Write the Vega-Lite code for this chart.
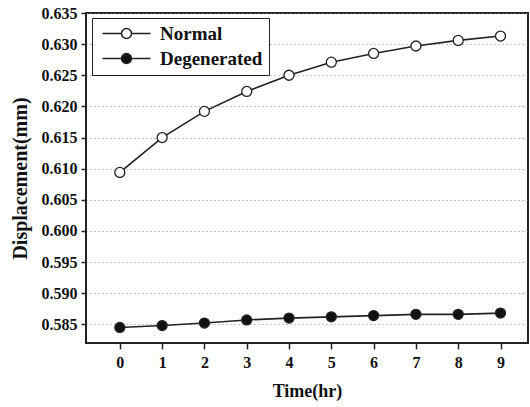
{
  "$schema": "https://vega.github.io/schema/vega-lite/v6.json",
  "width": 442,
  "height": 330,
  "autosize": "none",
  "padding": {"left": 86, "top": 13, "right": 2, "bottom": 64},
  "background": "white",
  "config": {
    "font": "Liberation Serif",
    "view": {"stroke": "#222", "strokeWidth": 2}
  },
  "data": {
    "values": [
      {"time": 0, "series": "Normal", "disp": 0.6094},
      {"time": 1, "series": "Normal", "disp": 0.6150},
      {"time": 2, "series": "Normal", "disp": 0.6192},
      {"time": 3, "series": "Normal", "disp": 0.6224},
      {"time": 4, "series": "Normal", "disp": 0.6250},
      {"time": 5, "series": "Normal", "disp": 0.6271},
      {"time": 6, "series": "Normal", "disp": 0.6285},
      {"time": 7, "series": "Normal", "disp": 0.6297},
      {"time": 8, "series": "Normal", "disp": 0.6306},
      {"time": 9, "series": "Normal", "disp": 0.6313},
      {"time": 0, "series": "Degenerated", "disp": 0.5845},
      {"time": 1, "series": "Degenerated", "disp": 0.5848},
      {"time": 2, "series": "Degenerated", "disp": 0.5852},
      {"time": 3, "series": "Degenerated", "disp": 0.5857},
      {"time": 4, "series": "Degenerated", "disp": 0.5860},
      {"time": 5, "series": "Degenerated", "disp": 0.5862},
      {"time": 6, "series": "Degenerated", "disp": 0.5864},
      {"time": 7, "series": "Degenerated", "disp": 0.5866},
      {"time": 8, "series": "Degenerated", "disp": 0.5866},
      {"time": 9, "series": "Degenerated", "disp": 0.5868}
    ]
  },
  "encoding": {
    "x": {
      "field": "time", "type": "quantitative",
      "scale": {"domain": [-0.8, 9.65], "nice": false, "zero": false},
      "axis": {
        "title": "Time(hr)", "values": [0,1,2,3,4,5,6,7,8,9], "format": "d",
        "grid": false, "domain": false,
        "tickColor": "#222", "tickWidth": 1.5, "tickSize": 6,
        "labelFont": "Liberation Serif", "labelFontWeight": "bold", "labelFontSize": 16, "labelColor": "#111", "labelPadding": 5,
        "titleFont": "Liberation Serif", "titleFontWeight": "bold", "titleFontSize": 18, "titleColor": "#111", "titlePadding": 12
      }
    },
    "y": {
      "field": "disp", "type": "quantitative",
      "scale": {"domain": [0.582, 0.635], "nice": false, "zero": false},
      "axis": {
        "title": "Displacement(mm)",
        "values": [0.585,0.59,0.595,0.6,0.605,0.61,0.615,0.62,0.625,0.63,0.635],
        "format": ".3f",
        "grid": true, "gridDash": [1, 3], "gridColor": "#888", "gridWidth": 1,
        "domain": false,
        "tickColor": "#222", "tickWidth": 1.5, "tickSize": 5,
        "labelFont": "Liberation Serif", "labelFontWeight": "bold", "labelFontSize": 16, "labelColor": "#111", "labelPadding": 4,
        "titleFont": "Liberation Serif", "titleFontWeight": "bold", "titleFontSize": 20, "titleColor": "#111", "titlePadding": 11
      }
    }
  },
  "layer": [
    {
      "mark": {"type": "line", "stroke": "#222", "strokeWidth": 1.6},
      "encoding": {"detail": {"field": "series"}}
    },
    {
      "mark": {"type": "point", "filled": false, "stroke": "#222", "strokeWidth": 1.3, "size": 100, "opacity": 1},
      "encoding": {
        "fill": {
          "field": "series", "type": "nominal",
          "scale": {"domain": ["Normal", "Degenerated"], "range": ["white", "#111"]},
          "legend": {
            "title": null,
            "orient": "none", "legendX": 6, "legendY": 5,
            "symbolType": "M-1,0L2.8,0M4.8,0L8.6,0M2.8,0A1,1 0 1,0 4.8,0A1,1 0 1,0 2.8,0Z",
            "symbolSize": 100,
            "symbolStrokeColor": "#222", "symbolStrokeWidth": 1.5,
            "labelOffset": 43,
            "labelFont": "Liberation Serif", "labelFontWeight": "bold", "labelFontSize": 19, "labelColor": "#111",
            "rowPadding": 5,
            "padding": 6,
            "strokeColor": "#222", "fillColor": "white",
            "encode": {"legend": {"update": {"strokeWidth": {"value": 1.5}}}}
          }
        }
      }
    }
  ]
}
